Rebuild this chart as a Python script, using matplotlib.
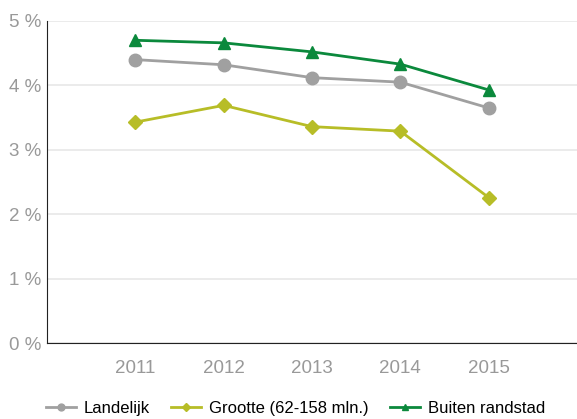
import matplotlib.pyplot as plt
from matplotlib.ticker import FuncFormatter

plt.rcParams['font.family'] = ['Liberation Sans', 'DejaVu Sans']

jaren = [2011, 2012, 2013, 2014, 2015]
landelijk = [4.40, 4.32, 4.12, 4.05, 3.65]
grootte = [3.43, 3.69, 3.36, 3.29, 2.26]
buiten = [4.70, 4.66, 4.52, 4.33, 3.93]

fig = plt.figure(figsize=(5.77, 4.19), dpi=100)
ax = fig.add_axes([0.0815, 0.181, 0.9185, 0.769])

ax.plot(jaren, landelijk, '-o', color='#a0a0a0', lw=2, ms=9, label='Landelijk', zorder=3)
ax.plot(jaren, grootte, '-D', color='#b7bd27', lw=2, ms=7, label='Grootte (62-158 mln.)', zorder=3)
ax.plot(jaren, buiten, '-^', color='#0b893c', lw=2, ms=9, label='Buiten randstad', zorder=3)

ax.set_xlim(2010, 2016)
ax.set_ylim(0, 5)
ax.set_yticks([0, 1, 2, 3, 4, 5])
ax.set_xticks(jaren)
ax.yaxis.set_major_formatter(FuncFormatter(lambda v, p: '%d %%' % v))
ax.grid(axis='y', color='#e8e8e8', lw=1.2)
ax.set_axisbelow(True)
for s in ['top', 'right']:
    ax.spines[s].set_visible(False)
ax.spines['left'].set_color('#222222')
ax.spines['bottom'].set_color('#222222')
ax.tick_params(length=0, labelsize=13.5, colors='#999999', pad=4)
ax.tick_params(axis='x', pad=12)

fig.legend(loc='center', bbox_to_anchor=(0.512, 0.026), ncol=3, frameon=False,
           fontsize=12, markerscale=0.55, handlelength=1.8, columnspacing=1.25,
           handletextpad=0.5, borderpad=0)

fig.savefig('out.png', dpi=100)
